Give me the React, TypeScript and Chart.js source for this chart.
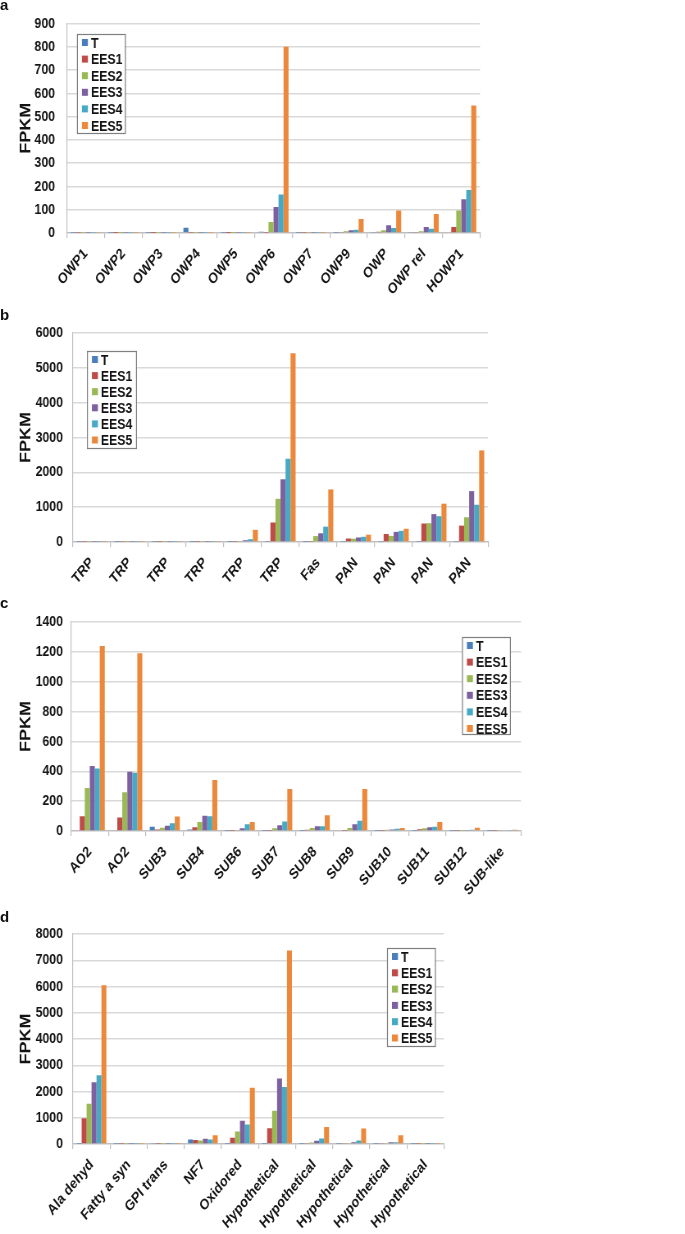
import React, { useEffect, useRef } from "react";
import { Chart, registerables } from "chart.js";
Chart.register(...registerables);

const FONT = "'Liberation Sans', Arial, sans-serif";
const SQUEEZE = 0.82;

const seriesNames = ["T", "EES1", "EES2", "EES3", "EES4", "EES5"];
const seriesColors = ["#4A7EBB", "#BE4B48", "#98B954", "#7D60A0", "#46AAC5", "#EC883B"];

// Panel a
const catsA = ["OWP1", "OWP2", "OWP3", "OWP4", "OWP5", "OWP6", "OWP7", "OWP9", "OWP", "OWP rel", "HOWP1"];
const aT = [1, 1, 1, 23, 1, 5, 1, 1, 2, 2, 3];
const aEES1 = [1, 0.5, 0.5, 1, 0.3, 1, 1, 2, 5, 4, 26];
const aEES2 = [1, 0.5, 1, 1, 0.5, 47, 1, 8, 12, 8, 97];
const aEES3 = [1, 1, 1, 1, 1, 112, 1, 12, 33, 26, 145];
const aEES4 = [1, 1, 1, 1, 1, 166, 1, 14, 22, 18, 185];
const aEES5 = [2, 1, 1, 1, 1, 800, 1, 60, 97, 82, 548];

// Panel b
const catsB = ["TRP", "TRP", "TRP", "TRP", "TRP", "TRP", "Fas", "PAN", "PAN", "PAN", "PAN"];
const bT = [8, 6, 8, 6, 6, 10, 6, 10, 10, 10, 10];
const bEES1 = [8, 10, 6, 6, 8, 560, 10, 100, 230, 530, 470];
const bEES2 = [8, 8, 8, 8, 15, 1240, 170, 95, 175, 540, 710];
const bEES3 = [8, 8, 8, 8, 50, 1800, 250, 130, 290, 800, 1460];
const bEES4 = [8, 8, 8, 8, 80, 2390, 440, 150, 320, 740, 1070];
const bEES5 = [10, 10, 10, 10, 350, 5420, 1510, 210, 380, 1100, 2630];

// Panel c
const catsC = ["AO2", "AO2", "SUB3", "SUB4", "SUB6", "SUB7", "SUB8", "SUB9", "SUB10", "SUB11", "SUB12", "SUB-like"];
const cT = [0, 0, 28, 10, 1, 1, 2, 5, 1, 2, 1, 1];
const cEES1 = [98, 91, 10, 25, 1, 2, 8, 1, 2, 12, 1, 1];
const cEES2 = [288, 259, 22, 60, 7, 18, 20, 20, 8, 18, 2, 3];
const cEES3 = [435, 397, 35, 102, 18, 38, 32, 45, 10, 25, 4, 5];
const cEES4 = [419, 390, 52, 98, 45, 63, 32, 68, 15, 28, 8, 6];
const cEES5 = [1239, 1190, 97, 342, 60, 282, 105, 282, 20, 60, 22, 8];

// Panel d
const catsD = ["Ala dehyd", "Fatty a syn", "GPI trans", "NF7", "Oxidored", "Hypothetical", "Hypothetical", "Hypothetical", "Hypothetical", "Hypothetical"];
const dT = [10, 10, 40, 170, 10, 10, 10, 10, 10, 10];
const dEES1 = [980, 10, 10, 150, 240, 600, 20, 20, 20, 10];
const dEES2 = [1530, 10, 10, 130, 480, 1270, 60, 40, 40, 10];
const dEES3 = [2350, 10, 10, 200, 890, 2500, 120, 70, 70, 10];
const dEES4 = [2620, 10, 10, 170, 740, 2170, 210, 130, 70, 10];
const dEES5 = [6050, 10, 10, 330, 2140, 7370, 650, 590, 330, 10];

const boxLegend = {
  id: "boxLegend",
  afterDraw(chart: any, _args: any, opts: any) {
    const { x, y, w, h, rowGap } = opts;
    const ctx = chart.ctx;
    ctx.save();
    ctx.fillStyle = "#ffffff";
    ctx.fillRect(x, y, w, h);
    ctx.strokeStyle = "#7f7f7f";
    ctx.lineWidth = 1.2;
    ctx.strokeRect(x + 0.5, y + 0.5, w, h);
    ctx.font = `bold 15px ${FONT}`;
    ctx.textBaseline = "middle";
    ctx.textAlign = "left";
    chart.data.datasets.forEach((ds: any, i: number) => {
      const cy = y + 8.5 + i * rowGap;
      ctx.fillStyle = ds.backgroundColor;
      ctx.fillRect(x + 6, cy - 3.5, 7.3, 7);
      ctx.fillStyle = "#141414";
      ctx.fillText(ds.label, x + 17, cy + 1);
    });
    ctx.restore();
  },
};

type PanelProps = {
  top: number;
  width: number;
  height: number;
  cats: string[];
  series: number[][];
  max: number;
  step: number;
  padTop: number;
  padRight: number;
  yWidth: number;
  xHeight: number;
  tickPad: number;
  legend: { x: number; y: number; w: number; h: number; rowGap: number };
};

function Panel(p: PanelProps) {
  const ref = useRef<HTMLCanvasElement>(null);
  useEffect(() => {
    if (!ref.current) return;
    const chart = new Chart(ref.current, {
      type: "bar",
      data: {
        labels: p.cats,
        datasets: p.series.map((vals, i) => ({
          label: seriesNames[i],
          data: vals,
          backgroundColor: seriesColors[i],
          borderWidth: 0,
          categoryPercentage: 0.8,
          barPercentage: 1.0,
        })),
      },
      options: {
        animation: false,
        responsive: false,
        maintainAspectRatio: false,
        devicePixelRatio: 1,
        layout: { padding: { top: p.padTop, right: p.padRight, left: 0, bottom: 0 } },
        plugins: {
          legend: { display: false },
          tooltip: { enabled: false },
          boxLegend: p.legend,
        } as any,
        scales: {
          x: {
            afterFit: (s: any) => {
              s.height = p.xHeight;
            },
            grid: {
              display: true,
              drawOnChartArea: false,
              drawTicks: true,
              tickLength: 5,
              color: "#bfbfbf",
              lineWidth: 1.2,
            },
            border: { display: true, color: "#bfbfbf", width: 1.2 },
            ticks: {
              autoSkip: false,
              minRotation: 45,
              maxRotation: 45,
              padding: 7,
              color: "#141414",
              font: { family: FONT, size: 15, weight: "bold" },
            },
          },
          y: {
            min: 0,
            max: p.max,
            afterFit: (s: any) => {
              s.width = p.yWidth;
            },
            grid: { color: "#d9d9d9", lineWidth: 1.5, drawTicks: false },
            border: { display: true, color: "#bfbfbf", width: 1.2 },
            ticks: {
              stepSize: p.step,
              padding: p.tickPad,
              color: "#141414",
              font: { family: FONT, size: 15, weight: "bold" },
              callback: (v: any) => String(v),
            },
            title: {
              display: true,
              text: "FPKM",
              color: "#141414",
              font: { family: FONT, size: 18, weight: "bold" },
              padding: { top: 21, bottom: 0 },
            },
          },
        },
      },
      plugins: [boxLegend],
    });
    return () => chart.destroy();
  }, []);
  return (
    <div
      style={{
        position: "absolute",
        left: 0,
        top: p.top,
        width: p.width,
        height: p.height,
        transform: `scaleX(${SQUEEZE})`,
        transformOrigin: "0 0",
      }}
    >
      <canvas ref={ref} width={p.width} height={p.height} style={{ display: "block" }} />
    </div>
  );
}

const labelStyle = (top: number): React.CSSProperties => ({
  position: "absolute",
  left: 0,
  top,
  fontFamily: "'Liberation Sans', Arial, sans-serif",
  fontWeight: "bold",
  fontSize: 15,
  lineHeight: "15px",
  color: "#111",
});

export default function App() {
  return (
    <div style={{ position: "absolute", left: 0, top: 0, width: 685, height: 1234, background: "#fff", overflow: "hidden" }}>
      <Panel
        top={0} width={610} height={300}
        cats={catsA} series={[aT, aEES1, aEES2, aEES3, aEES4, aEES5]}
        max={900} step={100} padTop={23} padRight={24.6} yWidth={81.7} xHeight={67} tickPad={14.6}
        legend={{ x: 93.9, y: 34, w: 58.5, h: 99, rowGap: 16.6 }}
      />
      <Panel
        top={300} width={620} height={300}
        cats={catsB} series={[bT, bEES1, bEES2, bEES3, bEES4, bEES5]}
        max={6000} step={1000} padTop={33} padRight={24.9} yWidth={89} xHeight={58} tickPad={12.2}
        legend={{ x: 106.1, y: 51, w: 59.8, h: 97, rowGap: 16.1 }}
      />
      <Panel
        top={590} width={660} height={310}
        cats={catsC} series={[cT, cEES1, cEES2, cEES3, cEES4, cEES5]}
        max={1400} step={200} padTop={32} padRight={24.6} yWidth={86.6} xHeight={69} tickPad={9.8}
        legend={{ x: 563.4, y: 47, w: 58.5, h: 97, rowGap: 16.6 }}
      />
      <Panel
        top={890} width={565} height={344}
        cats={catsD} series={[dT, dEES1, dEES2, dEES3, dEES4, dEES5]}
        max={8000} step={1000} padTop={44} padRight={23.5} yWidth={89} xHeight={90} tickPad={12.2}
        legend={{ x: 472, y: 58, w: 58.5, h: 98, rowGap: 16.3 }}
      />
      <div style={labelStyle(-3)}>a</div>
      <div style={labelStyle(307)}>b</div>
      <div style={labelStyle(595)}>c</div>
      <div style={labelStyle(909)}>d</div>
    </div>
  );
}
